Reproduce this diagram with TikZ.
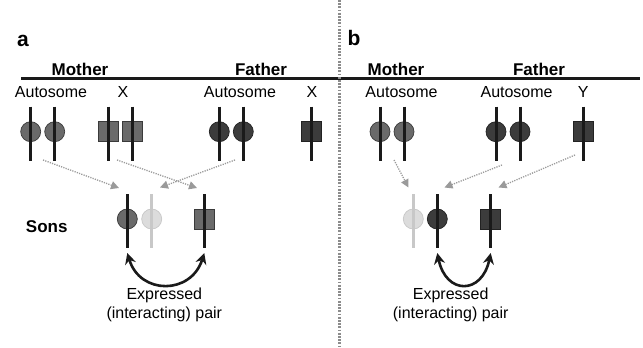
\documentclass[tikz,border=0pt]{standalone}
\usepackage{fontspec}
\setmainfont{Liberation Sans}
\usetikzlibrary{arrows.meta}
\definecolor{momc}{HTML}{6A6A6A}
\definecolor{momedge}{HTML}{3A3A3A}
\definecolor{dadc}{HTML}{3C3C3C}
\definecolor{dadedge}{HTML}{222222}
\definecolor{lightc}{HTML}{DCDCDC}
\definecolor{lightedge}{HTML}{C8C8C8}
\definecolor{barc}{HTML}{1A1A1A}
\definecolor{inhc}{HTML}{9A9A9A}
\definecolor{sepc}{HTML}{8C8C8C}
\newcommand{\mychrom}[5]{%
  \node[#4] (#1) at (#2,#3) {};
  \coordinate (#1t) at (#2,#3-25);
  \coordinate (#1b) at (#2,#3+29);
  \coordinate (#1a) at (#2,#3+34);
  \draw[line width=3pt, draw=#5] (#1t) -- (#1b);}
\begin{document}
\begin{tikzpicture}[x=1pt,y=-1pt,
  mcirc/.style={circle, minimum size=20pt, inner sep=0pt, fill=momc, draw=momedge, line width=0.7pt},
  fcirc/.style={circle, minimum size=20pt, inner sep=0pt, fill=dadc, draw=dadedge, line width=0.7pt},
  lcirc/.style={circle, minimum size=20pt, inner sep=0pt, fill=lightc, draw=lightedge, line width=0.7pt},
  msq/.style={rectangle, minimum size=20pt, inner sep=0pt, fill=momc, draw=momedge, line width=0.7pt},
  fsq/.style={rectangle, minimum size=20pt, inner sep=0pt, fill=dadc, draw=dadedge, line width=0.7pt},
  lbl/.style={font=\fontsize{16}{18}\selectfont, inner sep=0pt},
  hdr/.style={font=\bfseries\fontsize{17}{19}\selectfont, inner sep=0pt},
  panellbl/.style={font=\bfseries\fontsize{21}{23}\selectfont, inner sep=0pt},
  inh/.style={draw=inhc, line width=1.3pt, dash pattern=on 1.2pt off 1.2pt, -{Triangle[length=8pt,width=8pt]}},
  pairarrow/.style={draw=barc, line width=2.6pt, {Stealth[length=11pt,width=11pt]}-{Stealth[length=11pt,width=11pt]}}
]
\useasboundingbox (0,0) rectangle (643,348);
\fill[white] (0,0) rectangle (643,348);

% separators
\draw[line width=2.5pt, draw=barc] (21,78.3) -- (640,78.3);
\draw[line width=2.4pt, draw=sepc, dash pattern=on 1.8pt off 1.4pt] (339.5,0) -- (339.5,348);

% panel labels and headers
\node[panellbl] (pa) at (23,41) {a};
\node[panellbl] (pb) at (354,38) {b};
\node[hdr] (moma) at (80,69) {Mother};
\node[hdr] (dada) at (261,69) {Father};
\node[hdr] (momb) at (396,69) {Mother};
\node[hdr] (dadb) at (539,69) {Father};
\node[hdr] (sons) at (46.7,227) {Sons};

\node[lbl] (la1) at (51,92) {Autosome};
\node[lbl] (la2) at (123,92) {X};
\node[lbl] (la3) at (240,92) {Autosome};
\node[lbl] (la4) at (312,92) {X};
\node[lbl] (lb1) at (401.5,92) {Autosome};
\node[lbl] (lb2) at (516.6,92) {Autosome};
\node[lbl] (lb3) at (583.3,92) {Y};

% panel a parents
\mychrom{am1}{30.7}{131.7}{mcirc}{barc}
\mychrom{am2}{54.7}{131.7}{mcirc}{barc}
\mychrom{ax1}{108.3}{131.7}{msq}{barc}
\mychrom{ax2}{132.7}{131.7}{msq}{barc}
\mychrom{af1}{219.3}{131.7}{fcirc}{barc}
\mychrom{af2}{243.3}{131.7}{fcirc}{barc}
\mychrom{afx}{311}{131.7}{fsq}{barc}
% panel a sons
\mychrom{as1}{127.3}{219}{mcirc}{barc}
\mychrom{as2}{151.7}{219}{lcirc}{lightedge}
\mychrom{as3}{204.3}{219}{msq}{barc}

% panel b parents
\mychrom{bm1}{380}{131.7}{mcirc}{barc}
\mychrom{bm2}{404}{131.7}{mcirc}{barc}
\mychrom{bf1}{496}{131.7}{fcirc}{barc}
\mychrom{bf2}{520}{131.7}{fcirc}{barc}
\mychrom{bfy}{583.3}{131.7}{fsq}{barc}
% panel b sons
\mychrom{bs1}{413.3}{219}{lcirc}{lightedge}
\mychrom{bs2}{437.3}{219}{fcirc}{barc}
\mychrom{bs3}{490.7}{219}{fsq}{barc}

% inheritance arrows, panel a
\coordinate (aoa) at (43,160);
\coordinate (aox) at (117,160);
\coordinate (aof) at (235,160);
\coordinate (aia) at (119,188);
\coordinate (aix) at (197,188);
\coordinate (aif) at (160,187.5);
\draw[inh] (aoa) -- (aia);
\draw[inh] (aox) -- (aix);
\draw[inh] (aof) -- (aif);

% inheritance arrows, panel b
\coordinate (boa) at (394,160);
\coordinate (bof) at (502,165);
\coordinate (boy) at (575,155);
\coordinate (bia) at (408.5,187.5);
\coordinate (bif) at (444.5,187.5);
\coordinate (biy) at (498.5,187.5);
\draw[inh] (boa) -- (bia);
\draw[inh] (bof) -- (bif);
\draw[inh] (boy) -- (biy);

% expressed pairs
\draw[pairarrow] (as1a) .. controls (140,295) and (191,295) .. (as3a);
\draw[pairarrow] (bs2a) .. controls (446,295) and (482,295) .. (bs3a);

\node[lbl] (ea1) at (164.3,295) {Expressed};
\node[lbl] (ea2) at (164.3,314) {(interacting) pair};
\node[lbl] (eb1) at (450.7,295) {Expressed};
\node[lbl] (eb2) at (450.7,314) {(interacting) pair};
\end{tikzpicture}
\end{document}
